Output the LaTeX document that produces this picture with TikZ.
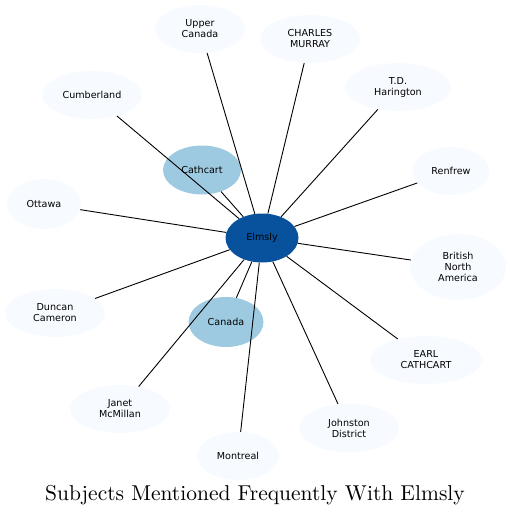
\documentclass[tikz,border=0pt]{standalone}
\usepackage{fontspec}
\newfontfamily\labelfont{DejaVu Sans}
\usetikzlibrary{shapes.geometric}

\definecolor{hubblue}{RGB}{8,81,156}
\definecolor{midblue}{RGB}{158,202,225}
\definecolor{paleblue}{RGB}{247,251,255}

\begin{document}
\begin{tikzpicture}[x=1pt, y=-1pt]

    % Styles
    \tikzset{
        topic/.style={ellipse, fill=paleblue, inner sep=0pt, minimum width=100pt, minimum height=48pt,
            align=center, font=\labelfont\fontsize{9.6}{11}\selectfont},
        near/.style={topic, fill=midblue},
        hub/.style={topic, fill=hubblue},
        link/.style={line width=0.9pt, black}
    }

    % Frame (keeps the page size)
    \useasboundingbox (0,0) rectangle (510,516);

    % Centre
    \node[hub, minimum width=73pt, minimum height=49pt] (elmsly) at (262,238) {Elmsly};

    % Subjects around it
    \node[topic, minimum width=90pt] (upper) at (200,29) {Upper\\Canada};
    \node[topic] (murray) at (310,39) {CHARLES\\MURRAY};
    \node[topic, minimum width=106pt] (harington) at (398,87) {T.D.\\Harington};
    \node[topic] (cumberland) at (92,95) {Cumberland};
    \node[near, minimum width=78pt, minimum height=49pt] (cathcart) at (202,170) {Cathcart};
    \node[topic, minimum width=77pt] (renfrew) at (451,171) {Renfrew};
    \node[topic, minimum width=74pt, minimum height=50pt] (ottawa) at (44,204) {Ottawa};
    \node[topic, minimum width=96pt, minimum height=66pt] (bna) at (458,267) {British\\North\\America};
    \node[topic] (duncan) at (55,313) {Duncan\\Cameron};
    \node[near, minimum width=75pt, minimum height=50pt] (canada) at (226,322) {Canada};
    \node[topic, minimum width=112pt] (earl) at (426,360) {EARL\\CATHCART};
    \node[topic] (janet) at (120,409) {Janet\\McMillan};
    \node[topic, minimum height=49pt] (johnston) at (349,428) {Johnston\\District};
    \node[topic, minimum width=82pt] (montreal) at (238,456) {Montreal};

    % Links
    \foreach \t in {upper, murray, harington, cumberland, cathcart, renfrew, ottawa,
                    bna, duncan, canada, earl, janet, johnston, montreal}
        \draw[link] (elmsly) -- (\t);

    % Title
    \node[font=\fontsize{10}{12}\selectfont, scale=2.15, anchor=base] (title) at (255,500)
        {Subjects Mentioned Frequently With Elmsly};

\end{tikzpicture}
\end{document}
